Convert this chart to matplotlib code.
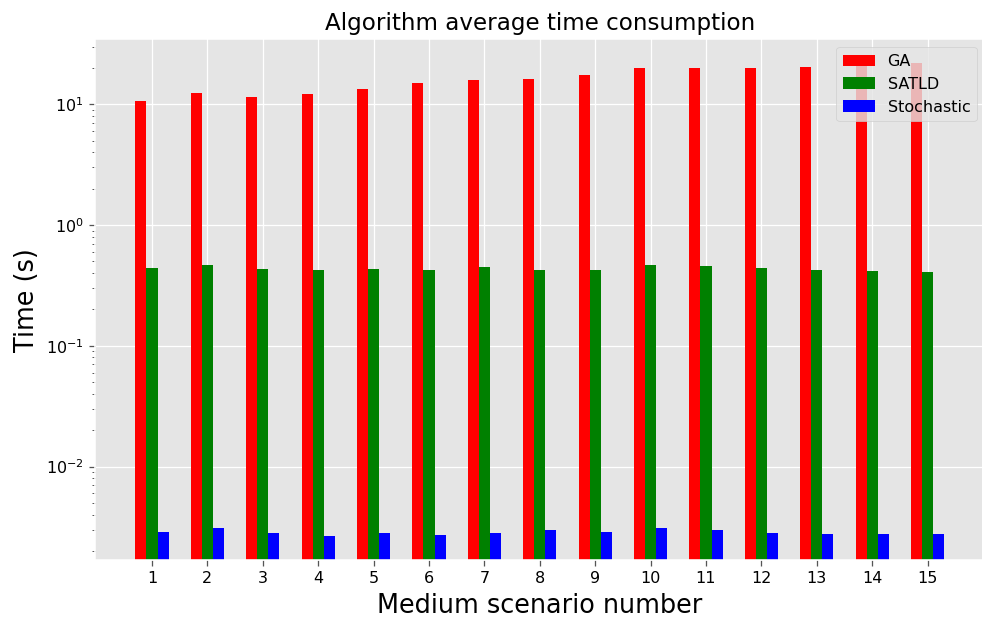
import matplotlib
matplotlib.use("Agg")
import matplotlib.pyplot as plt
import numpy as np

plt.style.use("ggplot")

scenarios = list(range(1, 16))
ga = [10.7, 12.5, 11.6, 12.25, 13.5, 15.1, 15.9, 16.2, 17.5, 19.95, 19.95, 19.95, 20.3, 20.8, 22.0]
satld = [0.440, 0.466, 0.431, 0.423, 0.431, 0.423, 0.449, 0.423, 0.423, 0.466, 0.457, 0.440, 0.423, 0.416, 0.408]
stochastic = [0.00285, 0.00307, 0.00279, 0.00264, 0.00279, 0.00269, 0.00279, 0.00296, 0.00285,
              0.00307, 0.00296, 0.00279, 0.00274, 0.00274, 0.00274]

DPI = 115
fig = plt.figure(figsize=(982 / DPI, 621 / DPI), dpi=DPI)
ax = fig.add_axes([0.0967, 0.0982, 0.906, 0.8385])

x = np.array(scenarios)
w = 0.2
ax.set_yscale("log")
ax.bar(x - w, ga, width=w, color="red", label="GA")
ax.bar(x, satld, width=w, color="green", label="SATLD")
ax.bar(x + w, stochastic, width=w, color="blue", label="Stochastic")

ax.set_xticks(x)
ax.set_xticklabels([str(s) for s in scenarios])
ax.tick_params(axis="both", labelcolor="black", labelsize=10)
ax.set_title("Algorithm average time consumption", fontsize=14.4, color="black")
ax.set_xlabel("Medium scenario number", fontsize=16, color="black")
ax.set_ylabel("Time (s)", fontsize=16, color="black")
ax.legend(loc="upper right", fontsize=10)

fig.savefig("out.png", dpi=DPI)
